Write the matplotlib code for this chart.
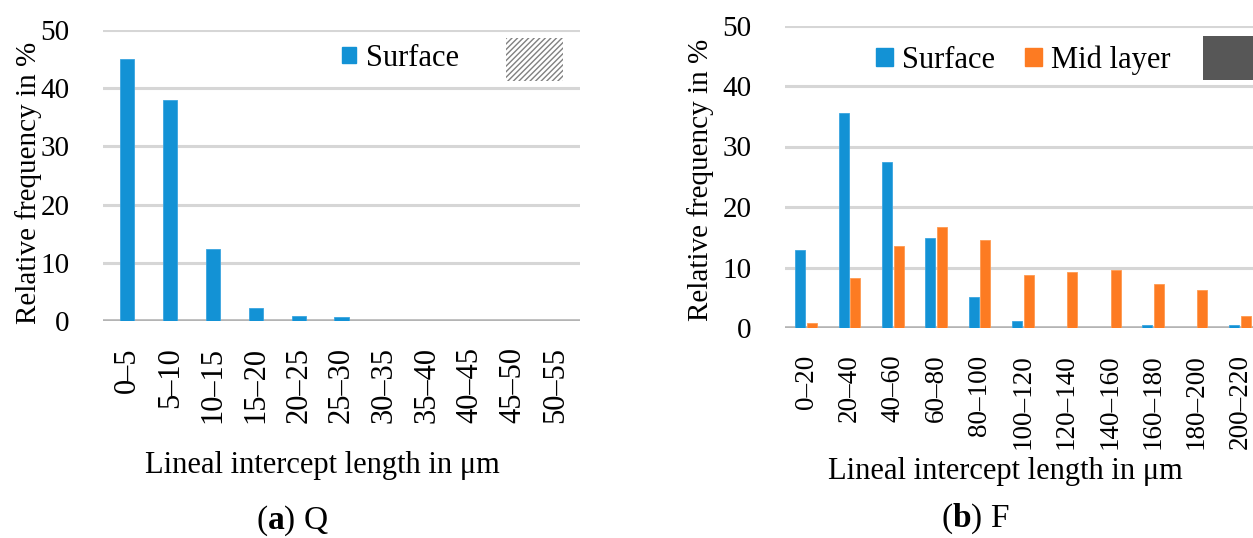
# Lineal intercept length distributions, (a) Q and (b) F
import numpy as np
import matplotlib.pyplot as plt
from matplotlib.patches import Rectangle, Patch

plt.rcParams['font.family'] = ['Liberation Serif', 'DejaVu Serif']
plt.rcParams['font.size'] = 22
plt.rcParams['mathtext.fontset'] = 'custom'
plt.rcParams['mathtext.rm'] = 'Liberation Serif'
plt.rcParams['mathtext.bf'] = 'Liberation Serif:bold'

# (a) Q
cats_q = ['0–5', '5–10', '10–15', '15–20', '20–25', '25–30',
          '30–35', '35–40', '40–45', '45–50', '50–55']
surface_q = [45.1, 38.0, 12.3, 2.2, 0.9, 0.65, 0, 0, 0, 0, 0]

# (b) F
cats_f = ['0–20', '20–40', '40–60', '60–80', '80–100', '100–120',
          '120–140', '140–160', '160–180', '180–200', '200–220']
surface_f = [12.9, 35.5, 27.5, 14.9, 5.2, 1.2, 0, 0, 0.45, 0, 0.45]
mid_f = [0.9, 8.3, 13.6, 16.7, 14.6, 8.8, 9.3, 9.6, 7.3, 6.3, 2.0]

blue = '#1392d5'
orange = '#fd7b22'
grid_c = '#d6d6d6'

fig = plt.figure(figsize=(12.53, 5.38), dpi=100)
W, H = 1253, 538


def style_axes(ax, xsize):
    ax.set_ylim(0, 50)
    ax.set_yticks([0, 10, 20, 30, 40, 50])
    ax.yaxis.grid(True, color=grid_c, lw=2.2)
    ax.set_axisbelow(True)
    for s in ax.spines.values():
        s.set_visible(False)
    ax.axhline(0, color='#b4b4b4', lw=2.6, zorder=1)
    ax.tick_params(axis='y', length=0, pad=24, labelsize=21)
    ax.tick_params(axis='x', length=0, pad=19, labelsize=xsize, rotation=90)
    ax.set_ylabel('Relative frequency in %', fontsize=21)


# ---- left panel ----
ax1 = fig.add_axes([103 / W, (H - 321) / H, (580 - 103) / W, (321 - 30) / H])
x = np.arange(len(cats_q))
ax1.bar(x, surface_q, width=0.33, color=blue, edgecolor='#3aa5e0', lw=0.6, zorder=2)
ax1.set_xlim(-0.57, 10.57)
ax1.set_xticks(x)
ax1.set_xticklabels(cats_q, va='top')
style_axes(ax1, 22)
ax1.yaxis.set_label_coords((29 - 103) / 477, 0.475)
ax1.yaxis.label.set_va('center')
ax1.set_xlabel('Lineal intercept length in μm', fontsize=22)
ax1.xaxis.set_label_coords((322 - 103) / 477, -(465 - 321) / 291)
ax1.xaxis.label.set_va('center')
ax1.legend(handles=[Patch(color=blue, label='Surface')], loc='center left',
           bbox_to_anchor=(0.501, 0.902), frameon=False, handlelength=0.45,
           handleheight=0.45, handletextpad=0.35, borderpad=0, borderaxespad=0,
           fontsize=22)
ax1.add_patch(Rectangle((0.844, 0.826), 0.12, 0.148, transform=ax1.transAxes,
                        facecolor='white', edgecolor='#808080', lw=0,
                        hatch='//////', zorder=3))

# ---- right panel ----
ax2 = fig.add_axes([785 / W, (H - 328) / H, (W - 785) / W, (328 - 25.5) / H])
x = np.arange(len(cats_f))
ax2.bar(x - 0.135, surface_f, width=0.23, color=blue, edgecolor='#3aa5e0', lw=0.6, zorder=2)
ax2.bar(x + 0.135, mid_f, width=0.23, color=orange, edgecolor='#ff9a50', lw=0.6, zorder=2)
ax2.set_xlim(-0.484, 10.30)
ax2.set_xticks(x)
ax2.set_xticklabels(cats_f, va='top')
style_axes(ax2, 19.5)
ax2.yaxis.set_label_coords((701 - 785) / 468, 0.49)
ax2.yaxis.label.set_va('center')
ax2.set_xlabel('Lineal intercept length in μm', fontsize=22)
ax2.xaxis.set_label_coords((1005 - 785) / 468, -(472 - 328) / 302.5)
ax2.xaxis.label.set_va('center')
ax2.legend(handles=[Patch(color=blue, label='Surface'),
                    Patch(color=orange, label='Mid layer')],
           loc='center left', bbox_to_anchor=(0.194, 0.886), ncol=2,
           frameon=False, handlelength=0.55, handleheight=0.55,
           handletextpad=0.3, columnspacing=1.0, borderpad=0,
           borderaxespad=0, fontsize=22)
ax2.add_patch(Rectangle((0.893, 0.820), 0.2, 0.146, transform=ax2.transAxes,
                        facecolor='#575757', lw=0, zorder=3, clip_on=False))

# captions
fig.text(292 / W, 1 - 521 / H, r'($\mathbf{a}$) Q', ha='center', va='center', fontsize=24)
fig.text(975 / W, 1 - 519 / H, r'($\mathbf{b}$) F', ha='center', va='center', fontsize=24)

fig.savefig('out.png', dpi=100)
